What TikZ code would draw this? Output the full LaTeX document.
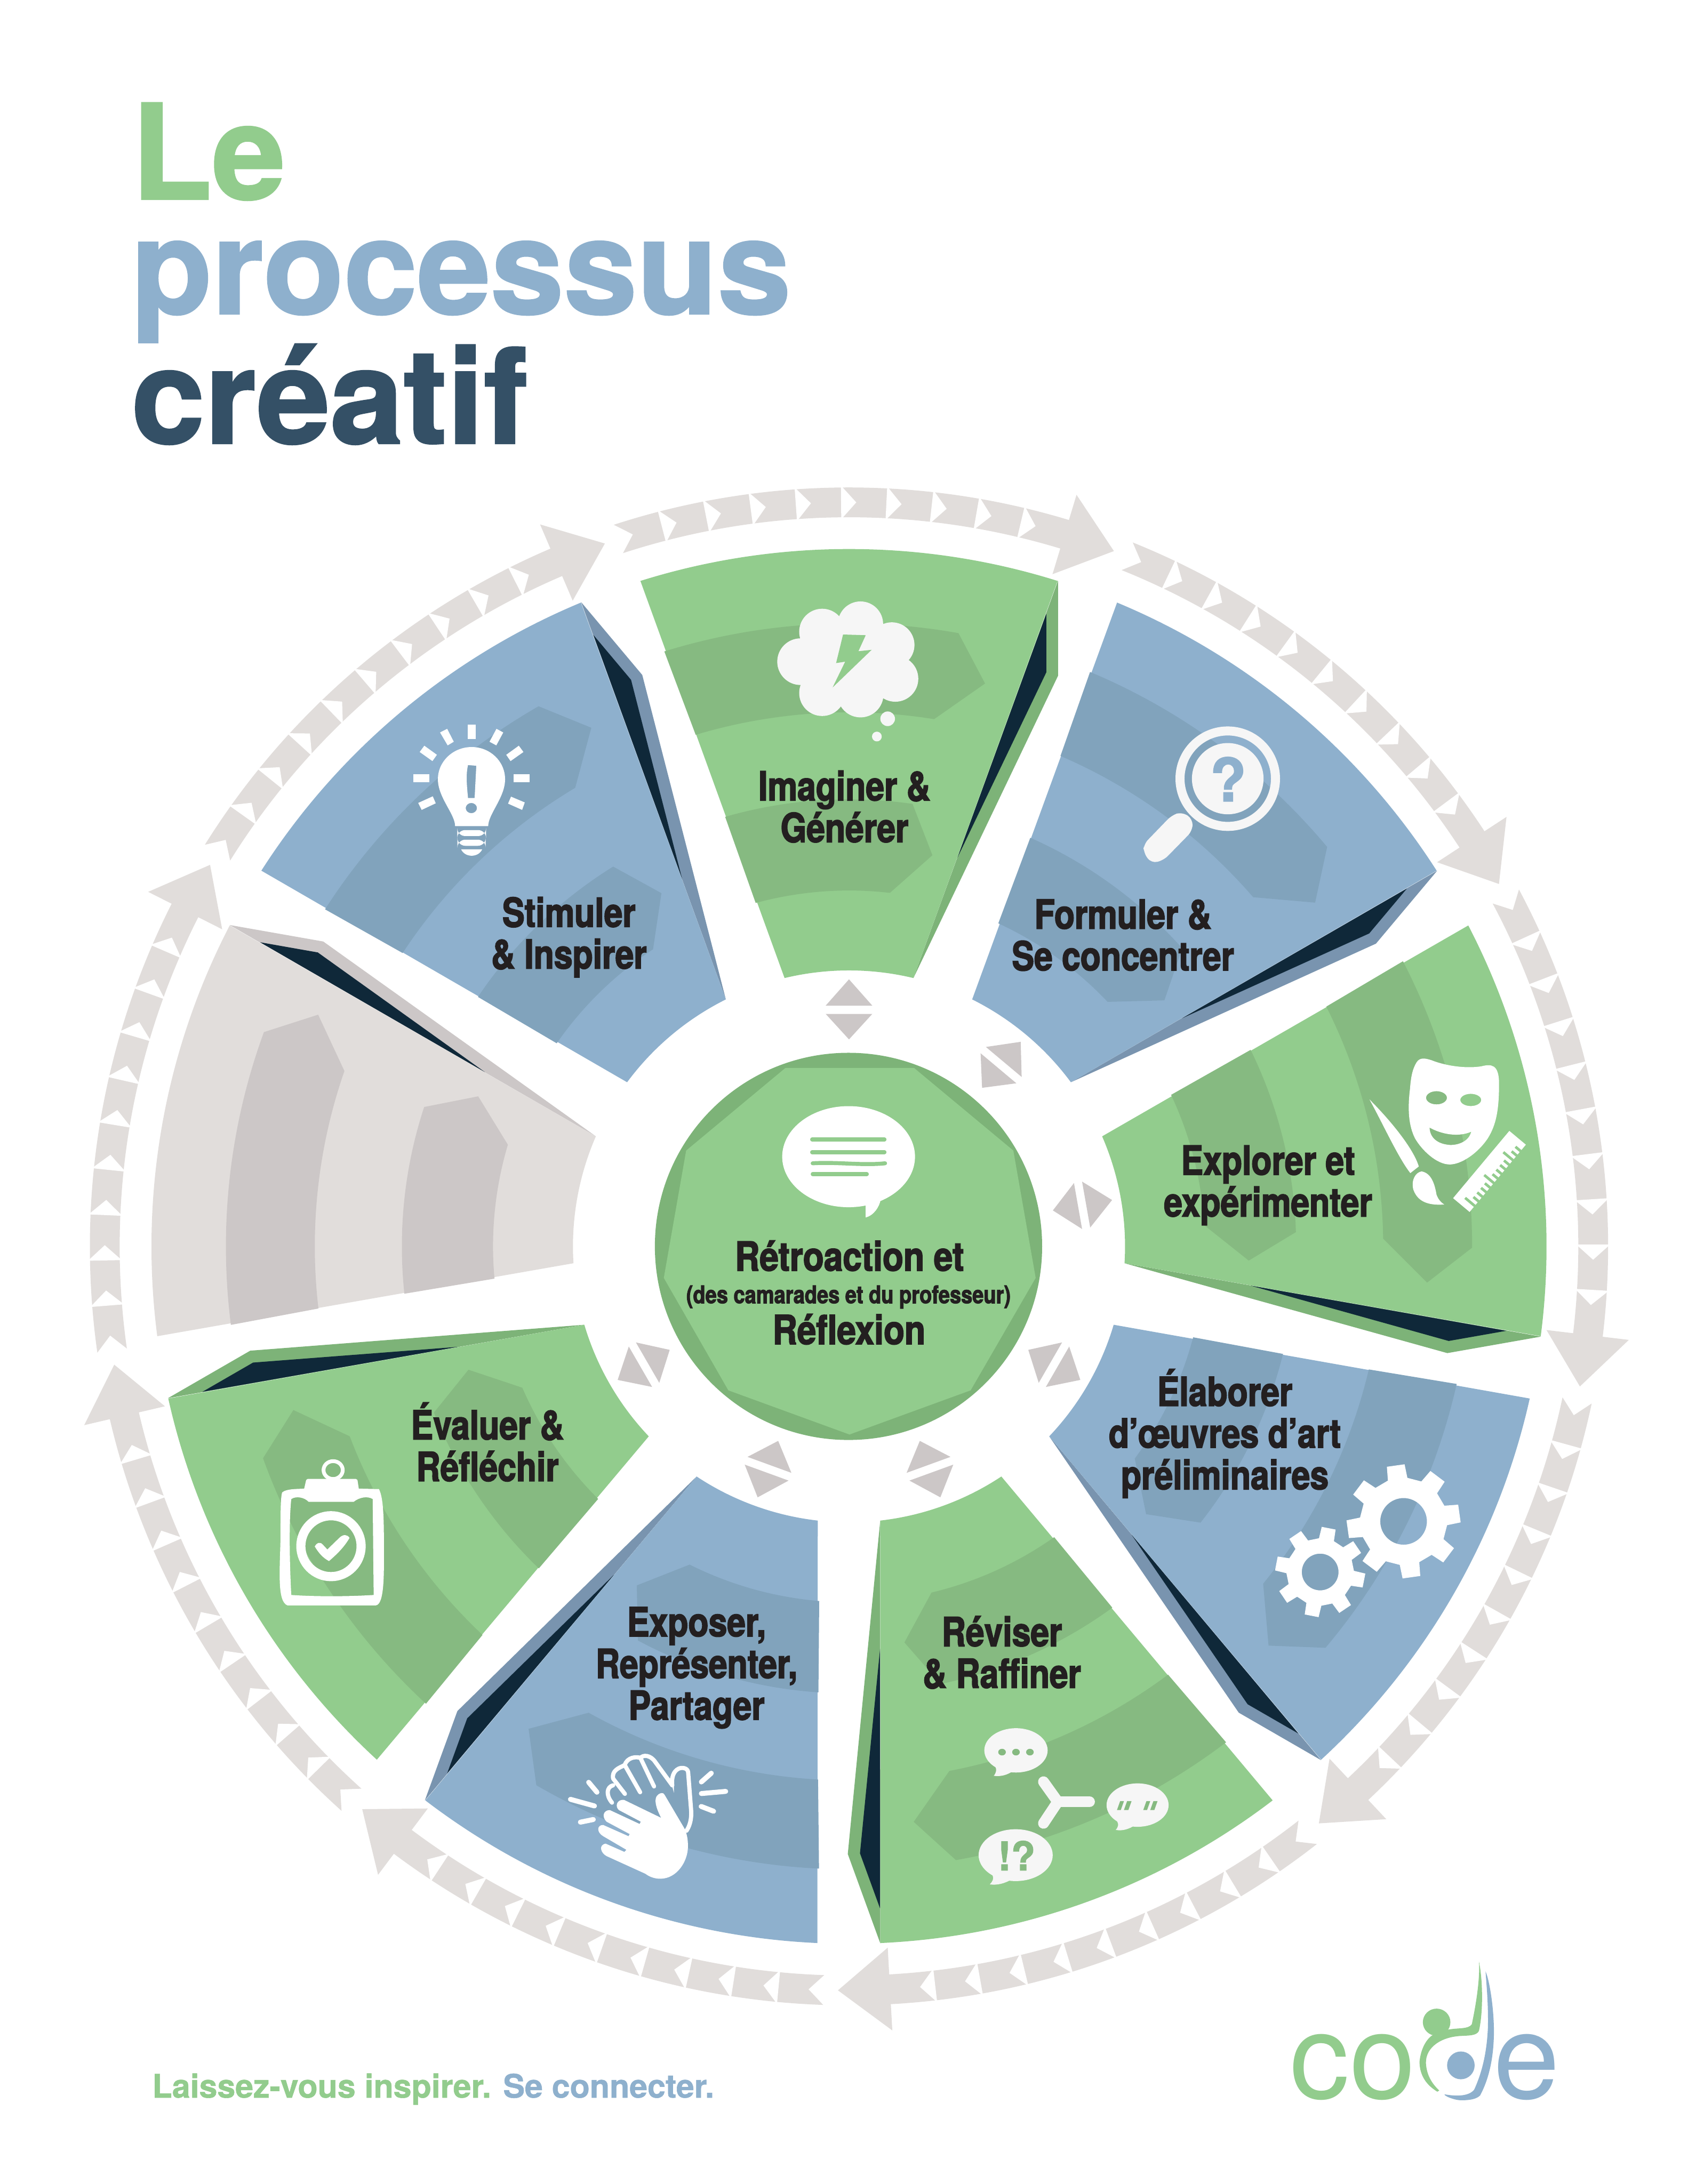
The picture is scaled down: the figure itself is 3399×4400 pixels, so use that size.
\documentclass[tikz,border=0pt]{standalone}
\usepackage{fontspec}
\setmainfont{TeX Gyre Heros}
\newfontfamily\labfont[FakeStretch=0.83,BoldFeatures={FakeBold=2.4}]{TeX Gyre Heros}
\newfontfamily\labwide[FakeStretch=0.85,BoldFeatures={FakeBold=2.4}]{TeX Gyre Heros}
\newfontfamily\ttlface[BoldFeatures={FakeBold=1.4}]{TeX Gyre Heros}
\newfontfamily\footface[BoldFeatures={FakeBold=1}]{TeX Gyre Heros}
\definecolor{gbase}{HTML}{92CC8D}
\definecolor{gband}{HTML}{86BA81}
\definecolor{gshad}{HTML}{7DB378}
\definecolor{bbase}{HTML}{8EB0CD}
\definecolor{bband}{HTML}{81A3BC}
\definecolor{bshad}{HTML}{7994AF}
\definecolor{ybase}{HTML}{E1DDDB}
\definecolor{yband}{HTML}{CCC7C7}
\definecolor{navy}{HTML}{0F2839}
\definecolor{ttl}{HTML}{345066}
\definecolor{txt}{HTML}{231F20}
\definecolor{snow}{HTML}{F6F6F6}
\tikzset{
  lab/.style={font=\labfont\bfseries\fontsize{20.2}{21}\selectfont,text=txt,align=center,inner sep=0pt},
  ttlfont/.style={font=\ttlface\bfseries\fontsize{66.4}{70}\selectfont,anchor=base west,inner sep=0pt},
  ray/.style={line width=2.5pt,line cap=round,white},
  hand/.style={line width=2.1pt,line cap=round,line join=round,white},
}
% k, base, band, shadow
\newcommand{\wheelseg}[4]{%
\begin{scope}[shift={(1710,2511)},rotate={-40*#1}]
  \fill[#4] (421,-1341) -- (421,-1149.5) -- (130,-541) -- cycle;
  \fill[#2] (-107.4:1405) arc[start angle=-107.4,end angle=-72.6,radius=1405] -- (-76.5:556) arc[start angle=-76.5,end angle=-103.5,radius=556] -- cycle;
  \fill[#3] (-107.24:1255) arc[start angle=-107.24,end angle=-79.88,radius=1255] -- (274,-1134) -- (-80.83:1076) arc[start angle=-80.83,end angle=-106.68,radius=1076] -- cycle;
  \fill[#3] (-106.08:900.6) arc[start angle=-106.08,end angle=-81.83,radius=900.6] -- (168,-788) -- (-83.4:717) arc[start angle=-83.4,end angle=-105.2,radius=717] -- cycle;
  \fill[navy] (397.4,-1274.4) -- (397.4,-1156.5) -- (218.5,-783.3) -- cycle;
\end{scope}}
\newcommand{\ringarrow}[1]{%
\begin{scope}[shift={(1710,2511)},rotate={-40*#1}]
  \fill[ybase] (-108.05:1529) arc[start angle=-108.05,end angle=-73.16,radius=1529] -- (-73.16:1582) -- (-69.15:1499) -- (-73.16:1415) -- (-73.16:1469) arc[start angle=-73.16,end angle=-108.05,radius=1469] -- (-106.88:1499) -- cycle;
  \foreach \j in {0,...,8}{
    \fill[white] ({-104.57+3.49*\j}:1533) -- ({-104.57+3.49*\j+1.17}:1499) -- ({-104.57+3.49*\j}:1465) -- cycle;
  }
\end{scope}}
\newcommand{\smallpair}[1]{%
\begin{scope}[shift={(1710,2511)},rotate={-40*#1}]
  \fill[yband] (-47,-485) -- (47,-485) -- (0,-538) -- cycle;
  \fill[yband] (-47,-468.4) -- (47,-468.4) -- (0,-417) -- cycle;
\end{scope}}
% cx, cy, first tooth angle, outer, root, hole
\newcommand{\mygear}[6]{%
\begin{scope}[shift={(#1,#2)}]
  \fill[white,even odd rule] ({#3-13}:#5) \foreach \k in {0,...,7}{ -- ({#3+45*\k-13}:#5) -- ({#3+45*\k-9}:#4) -- ({#3+45*\k+9}:#4) -- ({#3+45*\k+13}:#5) } -- cycle (0,0) circle[radius=#6];
\end{scope}}
\begin{document}
\begin{tikzpicture}[x=0.25pt,y=-0.25pt]
\useasboundingbox (0,0) rectangle (3399,4400);
\fill[white] (0,0) rectangle (3399,4400);
% title
\node[ttlfont,text=gbase] (t1) at (264,401) {Le};
\node[ttlfont,text=bbase] (t2) at (264,632) {processus};
\node[ttlfont,text=ttl] (t3) at (264,893) {créatif};
% ring
\foreach \k in {0,...,8}{\ringarrow{\k}}
% segments
\wheelseg{0}{gbase}{gband}{gshad}
\wheelseg{1}{bbase}{bband}{bshad}
\wheelseg{2}{gbase}{gband}{gshad}
\wheelseg{3}{bbase}{bband}{bshad}
\wheelseg{4}{gbase}{gband}{gshad}
\wheelseg{5}{bbase}{bband}{bshad}
\wheelseg{6}{gbase}{gband}{gshad}
\wheelseg{7}{ybase}{yband}{yband}
\wheelseg{8}{bbase}{bband}{bshad}
\foreach \k in {0,...,6}{\smallpair{\k}}
% centre
\fill[gshad] (1709,2511) circle[radius=390];
\fill[gbase] (1582,2151.5) -- (1841,2151.5) -- (2041,2318) -- (2086,2574.5) -- (1955,2801) -- (1711,2890) -- (1467,2801) -- (1337,2574.5) -- (1382,2318) -- cycle;
\begin{scope}[shift={(1250,2000)},xscale=0.574,yscale=0.606]
  \fill[white] (800,545) circle[x radius=233,y radius=168];
  \fill[white] (840,700) -- (860,705) -- (860,747) .. controls (890,740) and (908,710) .. (912,690) -- (930,650) -- cycle;
  \draw[gbase,line width=2pt,line cap=round] (672,488) -- (926,488);
  \draw[gbase,line width=2pt,line cap=round] (672,530) -- (926,530);
  \draw[gbase,line width=2pt,line cap=round] (674,567) .. controls (760,562) and (850,575) .. (928,567);
  \draw[gbase,line width=2pt,line cap=round] (674,603) -- (864,603);
\end{scope}
\node[inner sep=0pt,text=txt,font=\labwide\bfseries\fontsize{20.2}{21}\selectfont] (cen1) at (1711,2530) {Rétroaction et};
\node[inner sep=0pt,text=txt,font=\labfont\bfseries\fontsize{12.3}{13}\selectfont] (cen2) at (1709,2613) {(des camarades et du professeur)};
\node[inner sep=0pt,text=txt,font=\labwide\bfseries\fontsize{20.2}{21}\selectfont] (cen3) at (1710,2678) {Réflexion};
% labels
\node[lab] (l1) at (1701,1625) {Imaginer \&\\Générer};
\node[lab] (l2) at (2262,1884) {Formuler \&\\Se concentrer};
\node[lab] (l3) at (2554,2388) {Explorer et\\expérimenter};
\node[lab] (l4) at (2467,2888) {Élaborer\\d’œuvres d’art\\préliminaires};
\node[lab] (l5) at (2018,3329) {Réviser\\\& Raffiner};
\node[lab] (l6) at (1403,3360) {Exposer,\\Représenter,\\Partager};
\node[lab] (l7) at (982,2905) {Évaluer \&\\Réfléchir};
\node[lab] (l9) at (1146,1888) {Stimuler\\\& Inspirer};
% cloud
\begin{scope}[shift={(1200,950)},scale=0.7015]
  \fill[snow] (650,460) circle[radius=66] (760,438) circle[radius=65] (850,498) circle[radius=65] (860,595) circle[radius=66] (760,640) circle[radius=66] (650,636) circle[radius=66] (588,546) circle[radius=67] (725,545) circle[radius=120];
  \fill[snow] (838,710) circle[radius=21] (807,761) circle[radius=14];
  \fill[gbase] (710,468) -- (775,470) -- (754,516) -- (792,512) -- (680,620) -- (716,546) -- (690,550) -- cycle;
\end{scope}
% magnifier
\begin{scope}[shift={(1900,1100)},xscale=0.829,yscale=0.9566]
  \fill[snow,even odd rule] (691,490) circle[x radius=127,y radius=110] (691,490) circle[x radius=105,y radius=91];
  \fill[snow] (691,490) circle[x radius=87,y radius=75];
  \fill[snow,rounded corners=3pt] (555,567) -- (580,560) -- (606,575) -- (605,600) -- (535,662) -- (505,668) -- (486,645) -- (487,628) -- cycle;
  \node[inner sep=0pt,text=bbase,font=\ttlface\bfseries\fontsize{30}{30}\selectfont] (qm) at (692,491) {?};
\end{scope}
% masks, brush, ruler
\begin{scope}[shift={(2650,2050)},scale=0.3333]
  \fill[white,even odd rule] (610,270) .. controls (630,240) and (660,245) .. (700,258) .. controls (780,290) and (900,310) .. (1000,295) .. controls (1060,280) and (1108,280) .. (1108,400) .. controls (1108,560) and (1090,650) .. (1040,730) .. controls (980,820) and (880,888) .. (810,888) .. controls (730,888) and (640,800) .. (600,730) .. controls (560,650) and (555,550) .. (570,430) .. controls (575,360) and (585,310) .. (610,270) -- cycle
  (730,485) circle[x radius=63,y radius=40]
  (937,498) circle[x radius=63,y radius=37]
  (688,665) .. controls (760,705) and (860,725) .. (940,690) .. controls (925,750) and (860,772) .. (810,770) .. controls (740,765) and (690,730) .. (688,665) -- cycle;
  \fill[white] (325,495) .. controls (450,620) and (590,790) .. (623,900) -- (572,940) .. controls (500,850) and (400,630) .. (325,495) -- cycle;
  \fill[white] (640,930) .. controls (700,940) and (720,1010) .. (730,1070) .. controls (740,1100) and (760,1120) .. (777,1130) .. controls (700,1135) and (620,1125) .. (590,1040) .. controls (575,980) and (605,935) .. (640,930) -- cycle;
  \begin{scope}[shift={(930,1175)},rotate=50.1]
    \fill[white] (0,0) rectangle (530,-130);
    \foreach \i/\d in {0/75,1/40,2/40,3/40,4/40,5/75,6/40,7/40,8/40,9/40,10/75,11/40,12/40}{
      \fill[gbase] ({40+\i*36},2) rectangle ({56+\i*36},-\d);
    }
  \end{scope}
\end{scope}
% gears
\mygear{2827}{3065}{-98}{115}{88}{47}
\mygear{2659}{3167}{-79}{91}{68}{37}
% bubbles
\begin{scope}[shift={(1700,3150)},xscale=0.6378,yscale=0.4464]
  \fill[snow] (543,843) circle[radius=100];
  \fill[snow] (460,890) .. controls (475,910) and (490,925) .. (473,958) .. controls (495,962) and (515,955) .. (535,935) -- cycle;
  \fill[gband] (499,851) circle[x radius=12,y radius=15] (543,851) circle[x radius=12,y radius=15] (587,851) circle[x radius=12,y radius=15];
  \fill[snow] (927,1090) circle[radius=98];
  \fill[snow] (845,1140) .. controls (860,1155) and (875,1175) .. (858,1202) .. controls (880,1208) and (900,1198) .. (920,1180) -- cycle;
  \fill[gband] (872,1072) -- (884,1072) -- (874,1112) -- (862,1112) -- cycle (894,1072) -- (908,1072) -- (898,1112) -- (884,1112) -- cycle (955,1072) -- (967,1072) -- (957,1112) -- (945,1112) -- cycle (977,1072) -- (990,1072) -- (980,1112) -- (967,1112) -- cycle;
  \fill[snow] (542,1316) circle[radius=117];
  \fill[snow] (450,1380) .. controls (470,1400) and (480,1420) .. (460,1448) .. controls (485,1452) and (505,1445) .. (530,1425) -- cycle;
  \node[inner sep=0pt,text=gband,font=\ttlface\bfseries\fontsize{20}{20}\selectfont] (excl) at (545,1318) {!?};
  \draw[snow,line width=5.5pt,line cap=round] (675,1075) -- (630,985);
  \draw[snow,line width=5.5pt,line cap=round] (675,1075) -- (630,1172);
  \draw[snow,line width=5.5pt,line cap=round] (675,1075) -- (775,1075);
\end{scope}
% clapping hands
\begin{scope}[shift={(1100,3450)},scale=0.3333]
  \fill[white] (695,637) .. controls (660,570) and (640,500) .. (697,487) .. controls (705,485) and (712,490) .. (716,498) -- (835,700) .. controls (855,740) and (857,780) .. (857,810) .. controls (857,900) and (790,1005) .. (690,1005) .. controls (650,1005) and (620,990) .. (600,975) -- (365,868) .. controls (330,850) and (315,800) .. (360,793) -- (473,843) -- (485,830) -- (345,748) .. controls (305,725) and (305,680) .. (345,680) -- (498,748) -- (505,735) -- (365,660) .. controls (335,630) and (345,590) .. (385,590) -- (565,674) -- (572,660) -- (440,590) .. controls (415,570) and (425,525) .. (470,528) -- cycle;
  \draw[hand] (848,715) .. controls (878,670) and (878,620) .. (876,590) -- (858,360) .. controls (855,335) and (820,330) .. (800,340) .. controls (770,355) and (757,390) .. (762,440);
  \fill[white] (748,395) -- (772,485) -- (772,420) -- cycle;
  \draw[hand] (762,440) -- (660,300) .. controls (630,255) and (585,255) .. (570,275) -- (652,447);
  \draw[hand] (570,275) .. controls (545,265) and (490,270) .. (475,318) -- (568,482);
  \draw[hand] (475,318) .. controls (440,335) and (395,350) .. (405,400) -- (476,492);
  \draw[hand] (405,440) .. controls (365,450) and (360,500) .. (398,545);
  \draw[ray] (257,422) -- (307,482);
  \draw[ray] (147,525) -- (292,565);
  \draw[ray] (207,663) -- (285,647);
  \draw[ray] (998,367) -- (938,420);
  \draw[ray] (938,490) -- (1085,477);
  \draw[ray] (937,568) -- (1012,597);
\end{scope}
% clipboard
\begin{scope}[shift={(500,2850)},scale=0.3333]
  \fill[white,even odd rule] (205,470) .. controls (230,447) and (300,450) .. (338,447) -- (350,395) -- (360,388) -- (650,388) -- (660,395) -- (668,447) -- (790,450) .. controls (815,500) and (820,600) .. (820,800) .. controls (820,950) and (825,1150) .. (770,1153) -- (237,1153) .. controls (175,1130) and (190,950) .. (195,750) .. controls (195,600) and (195,500) .. (205,470) -- cycle
  (260,510) .. controls (290,490) and (340,500) .. (365,527) -- (637,527) .. controls (670,500) and (720,490) .. (752,510) -- (758,1090) .. controls (600,1100) and (400,1100) .. (260,1090) .. controls (250,900) and (245,650) .. (260,510) -- cycle;
  \draw[white,line width=1.9pt] (513,335) circle[x radius=58,y radius=54];
  \draw[white,line width=4.6pt] (500,795) circle[x radius=182,y radius=184];
  \fill[white] (402,797) .. controls (415,770) and (440,770) .. (450,785) -- (478,815) -- (550,745) .. controls (575,720) and (600,725) .. (612,745) .. controls (580,800) and (540,840) .. (488,885) .. controls (450,865) and (425,835) .. (402,797) -- cycle;
\end{scope}
% bulb
\begin{scope}[shift={(750,1400)},scale=0.3333]
  \fill[white,even odd rule] (500,793) -- (700,793) .. controls (700,720) and (802,620) .. (802,510) .. controls (802,400) and (710,315) .. (600,315) .. controls (490,315) and (396,400) .. (396,510) .. controls (396,620) and (500,720) .. (500,793) -- cycle
  (578,424) -- (628,428) -- (618,623) -- (578,623) .. controls (570,540) and (565,480) .. (578,424) -- cycle
  (598,684) circle[x radius=34,y radius=31];
  \fill[white,rounded corners=4pt] (513,817) rectangle (687,853);
  \fill[white,rounded corners=4pt] (514,875) rectangle (685,912);
  \fill[white] (536,933) -- (664,933) .. controls (640,985) and (560,985) .. (536,933) -- cycle;
  \fill[white] (577,180) -- (625,180) -- (625,268) -- (577,268) -- cycle;
  \fill[white] (409,227) -- (452,205) -- (492,283) -- (455,305) -- cycle;
  \fill[white] (286,345) -- (314,307) -- (390,362) -- (363,400) -- cycle;
  \fill[white] (246,480) -- (345,480) -- (345,528) -- (246,528) -- cycle;
  \fill[white] (277,653) -- (365,613) -- (383,655) -- (298,695) -- cycle;
  \fill[white] (708,283) -- (750,205) -- (791,227) -- (749,305) -- cycle;
  \fill[white] (809,362) -- (885,307) -- (913,345) -- (835,400) -- cycle;
  \fill[white] (852,480) -- (951,480) -- (951,528) -- (852,528) -- cycle;
  \fill[white] (820,657) -- (838,615) -- (921,650) -- (905,695) -- cycle;
\end{scope}
% footer
\node[inner sep=0pt,anchor=base west,font=\footface\bfseries\fontsize{16.35}{18}\selectfont] (foot) at (306,4226) {\textcolor{gbase}{Laissez-vous inspirer.} \textcolor{bbase}{Se connecter.}};
% logo
\node[inner sep=0pt,anchor=base west,text=gbase,font=\fontsize{60}{60}\selectfont] (logoa) at (2597,4228) {co};
\node[inner sep=0pt,anchor=base west,text=bbase,font=\fontsize{60}{60}\selectfont] (logob) at (3008,4228) {e};
\begin{scope}[shift={(2450,3850)},xscale=0.4785,yscale=0.3333]
  \fill[gbase] (927,672) circle[x radius=58,y radius=82];
  \fill[gbase] (975,717) .. controls (1020,705) and (1060,715) .. (1075,685) .. controls (1095,550) and (1110,400) .. (1105,305) .. controls (1120,400) and (1125,600) .. (1105,725) .. controls (1095,755) and (1060,752) .. (1030,755) .. controls (950,760) and (880,820) .. (882,920) .. controls (885,990) and (905,1040) .. (938,1085) -- (930,1092) .. controls (870,1040) and (855,970) .. (855,910) .. controls (860,840) and (880,780) .. (908,752) .. controls (920,745) and (960,725) .. (975,717) -- cycle;
  \fill[bbase] (1029,933) circle[x radius=58,y radius=84];
  \fill[bbase] (1133,365) .. controls (1150,420) and (1170,600) .. (1168,750) .. controls (1165,950) and (1130,1060) .. (1110,1115) .. controls (1090,1145) and (1040,1145) .. (1020,1143) .. controls (1000,1140) and (960,1120) .. (960,1108) .. controls (1000,1118) and (1060,1125) .. (1085,1080) .. controls (1130,940) and (1140,800) .. (1143,700) .. controls (1145,550) and (1135,420) .. (1133,365) -- cycle;
\end{scope}
\end{tikzpicture}
\end{document}
